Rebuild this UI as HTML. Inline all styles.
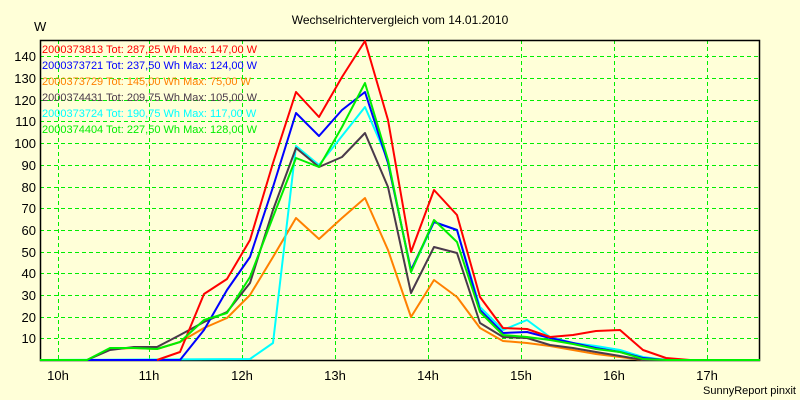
<!DOCTYPE html>
<html><head><meta charset="utf-8"><style>
body{margin:0;background:#ffffd8}
svg{display:block}
text{font-family:"Liberation Sans",sans-serif}
</style></head><body>
<svg width="800" height="400" xmlns="http://www.w3.org/2000/svg">
<rect width="800" height="400" fill="#ffffd8"/>
<text x="400" y="24" font-size="12" text-anchor="middle">Wechselrichtervergleich vom 14.01.2010</text>
<text x="34" y="31" font-size="13">W</text>
<g stroke="#00ee00" stroke-width="1" stroke-dasharray="4,3">
<line x1="40" x2="760" y1="56.5" y2="56.5"/><line x1="40" x2="760" y1="78.5" y2="78.5"/><line x1="40" x2="760" y1="100.5" y2="100.5"/><line x1="40" x2="760" y1="121.5" y2="121.5"/><line x1="40" x2="760" y1="143.5" y2="143.5"/><line x1="40" x2="760" y1="165.5" y2="165.5"/><line x1="40" x2="760" y1="187.5" y2="187.5"/><line x1="40" x2="760" y1="208.5" y2="208.5"/><line x1="40" x2="760" y1="230.5" y2="230.5"/><line x1="40" x2="760" y1="252.5" y2="252.5"/><line x1="40" x2="760" y1="273.5" y2="273.5"/><line x1="40" x2="760" y1="295.5" y2="295.5"/><line x1="40" x2="760" y1="317.5" y2="317.5"/><line x1="40" x2="760" y1="338.5" y2="338.5"/>
<line y1="40" y2="360" x1="58.5" x2="58.5"/><line y1="40" y2="360" x1="149.5" x2="149.5"/><line y1="40" y2="360" x1="242.5" x2="242.5"/><line y1="40" y2="360" x1="335.5" x2="335.5"/><line y1="40" y2="360" x1="428.5" x2="428.5"/><line y1="40" y2="360" x1="521.5" x2="521.5"/><line y1="40" y2="360" x1="614.5" x2="614.5"/><line y1="40" y2="360" x1="707.5" x2="707.5"/>
</g>
<rect x="40.5" y="40.5" width="719" height="320" fill="none" stroke="#000" stroke-width="1.5"/>
<g font-size="13" text-anchor="end">
<text x="36" y="61">140</text><text x="36" y="83">130</text><text x="36" y="105">120</text><text x="36" y="126">110</text><text x="36" y="148">100</text><text x="36" y="170">90</text><text x="36" y="192">80</text><text x="36" y="213">70</text><text x="36" y="235">60</text><text x="36" y="257">50</text><text x="36" y="278">40</text><text x="36" y="300">30</text><text x="36" y="322">20</text><text x="36" y="343">10</text>
</g>
<g font-size="13" text-anchor="middle">
<text x="58" y="380">10h</text><text x="149" y="380">11h</text><text x="242" y="380">12h</text><text x="335" y="380">13h</text><text x="428" y="380">14h</text><text x="521" y="380">15h</text><text x="614" y="380">16h</text><text x="707" y="380">17h</text>
</g>
<text x="796" y="394" font-size="11" text-anchor="end">SunnyReport pinxit</text>
<g fill="none" stroke-width="2" stroke-linejoin="round">
<polyline stroke="#ff8000" points="40,360 87,360 110,349 134,348 157,349 180,342 204,328 227,318 250,295 273,257 296,218 319,239 342,218 365,198 388,250 411,317 434,280 457,297 480,328 503,341 527,343 550,346 573,350 596,354 620,357 643,360 760,360"/>
<polyline stroke="#00ffff" points="40,360 250,359 273,343 296,146 319,165 342,136 365,107 388,160 411,272 434,222 457,230 480,307 503,330 527,320 550,337 573,343 596,346 620,350 643,357 666,360 760,360"/>
<polyline stroke="#4a3a4a" points="40,360 87,360 110,350 134,347 157,347 180,335 204,322 227,312 250,283 273,210 296,148 319,167 342,157 365,133 388,187 411,293 434,247 457,253 480,323 503,337 527,338 550,345 573,348 596,352 620,356 643,360 760,360"/>
<polyline stroke="#0000ff" points="40,360 180,360 204,330 227,290 250,257 273,187 296,113 319,136 342,110 365,92 388,163 411,270 434,222 457,230 480,310 503,333 527,332 550,338 573,343 596,348 620,352 643,358 666,360 760,360"/>
<polyline stroke="#ff0000" points="157,360 180,352 204,294 227,279 250,240 273,163 296,92 319,117 342,77 365,41 388,120 411,252 434,190 457,215 480,297 503,328 527,329 550,337 573,335 596,331 620,330 643,350 666,358 690,360 760,360"/>
<polyline stroke="#00ee00" points="40,360 87,360 110,348 134,348 157,349 180,342 204,320 227,313 250,277 273,217 296,158 319,167 342,127 365,83 388,160 411,272 434,220 457,242 480,312 503,335 527,337 550,340 573,344 596,349 620,352 643,359 666,360 760,360"/>
</g>
<g font-size="11">
<text x="42" y="53" fill="#ff0000">2000373813 Tot: 287,25 Wh Max: 147,00 W</text>
<text x="42" y="69" fill="#0000ff">2000373721 Tot: 237,50 Wh Max: 124,00 W</text>
<text x="42" y="85" fill="#ff8000">2000373729 Tot: 145,00 Wh Max: 75,00 W</text>
<text x="42" y="101" fill="#4a3a4a">2000374431 Tot: 209,75 Wh Max: 105,00 W</text>
<text x="42" y="117" fill="#00ffff">2000373724 Tot: 190,75 Wh Max: 117,00 W</text>
<text x="42" y="133" fill="#00ee00">2000374404 Tot: 227,50 Wh Max: 128,00 W</text>
</g>
</svg>
</body></html>
